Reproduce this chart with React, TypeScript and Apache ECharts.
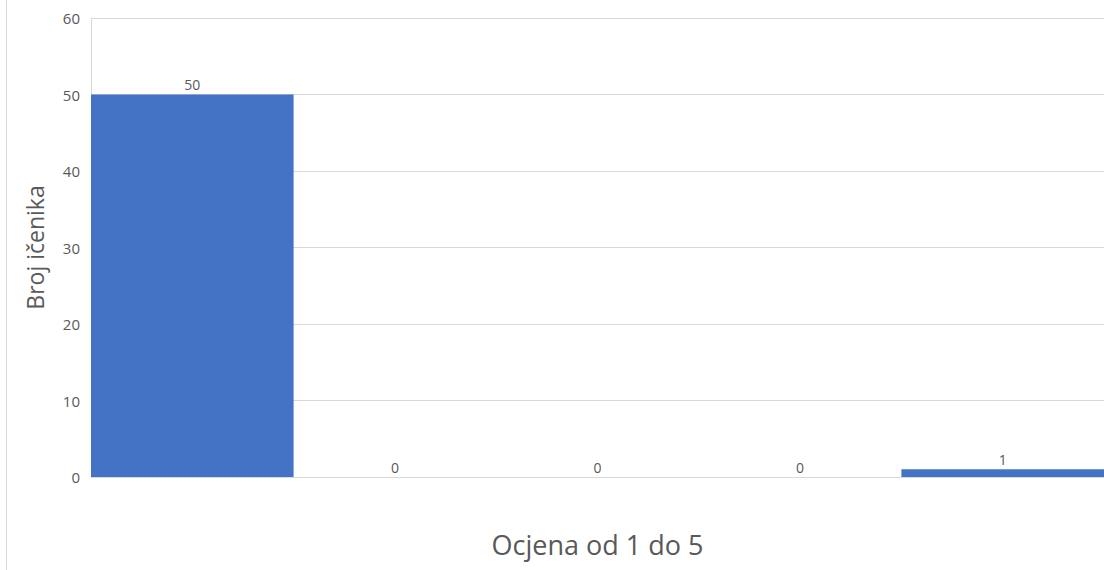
import React, { useEffect, useRef } from "react";
import * as echarts from "echarts";

const categories = ["1", "2", "3", "4", "5"];
const values = [50, 0, 0, 0, 1];
const yTicks = [0, 10, 20, 30, 40, 50, 60];
const xTitle = "Ocjena od 1 do 5";
const yTitle = "Broj ičenika";

export default function App() {
  const ref = useRef<HTMLDivElement>(null);
  useEffect(() => {
    if (!ref.current) return;
    const chart = echarts.init(ref.current, null, { renderer: "svg" });
    const font = "Open Sans, Liberation Sans, sans-serif";
    chart.setOption({
      animation: false,
      backgroundColor: "#ffffff",
      textStyle: { fontFamily: font },
      grid: { left: 91, right: 0, top: 18, bottom: 93, containLabel: false },
      graphic: [
        {
          type: "line",
          shape: { x1: 6.5, y1: 0, x2: 6.5, y2: 570 },
          style: { stroke: "#d9d9d9", lineWidth: 1 },
        },
      ],
      xAxis: {
        type: "category",
        data: categories,
        name: xTitle,
        nameLocation: "middle",
        nameGap: 54,
        nameTextStyle: { fontSize: 27, color: "#595959", fontFamily: font },
        axisLine: { show: true, lineStyle: { color: "#d9d9d9", width: 1 } },
        axisTick: { show: false },
        axisLabel: { show: false },
        splitLine: { show: false },
      },
      yAxis: {
        type: "value",
        min: yTicks[0],
        max: yTicks[yTicks.length - 1],
        interval: 10,
        name: yTitle,
        nameLocation: "middle",
        nameGap: 45,
        nameTextStyle: { fontSize: 23, color: "#595959", fontFamily: font },
        axisLine: { show: true, lineStyle: { color: "#d9d9d9", width: 1 } },
        axisTick: { show: false },
        axisLabel: { color: "#595959", fontSize: 15, margin: 11, fontFamily: font },
        splitLine: { show: true, lineStyle: { color: "#d9d9d9", width: 1 } },
      },
      series: [
        {
          type: "bar",
          data: values,
          barCategoryGap: "0%",
          itemStyle: { color: "#4472C4" },
          label: {
            show: true,
            position: "top",
            distance: 3,
            color: "#595959",
            fontSize: 14,
            fontFamily: font,
          },
        },
      ],
    });
    return () => chart.dispose();
  }, []);
  return (
    <div
      ref={ref}
      style={{ position: "fixed", left: 0, top: 0, width: 1104, height: 570 }}
    />
  );
}
